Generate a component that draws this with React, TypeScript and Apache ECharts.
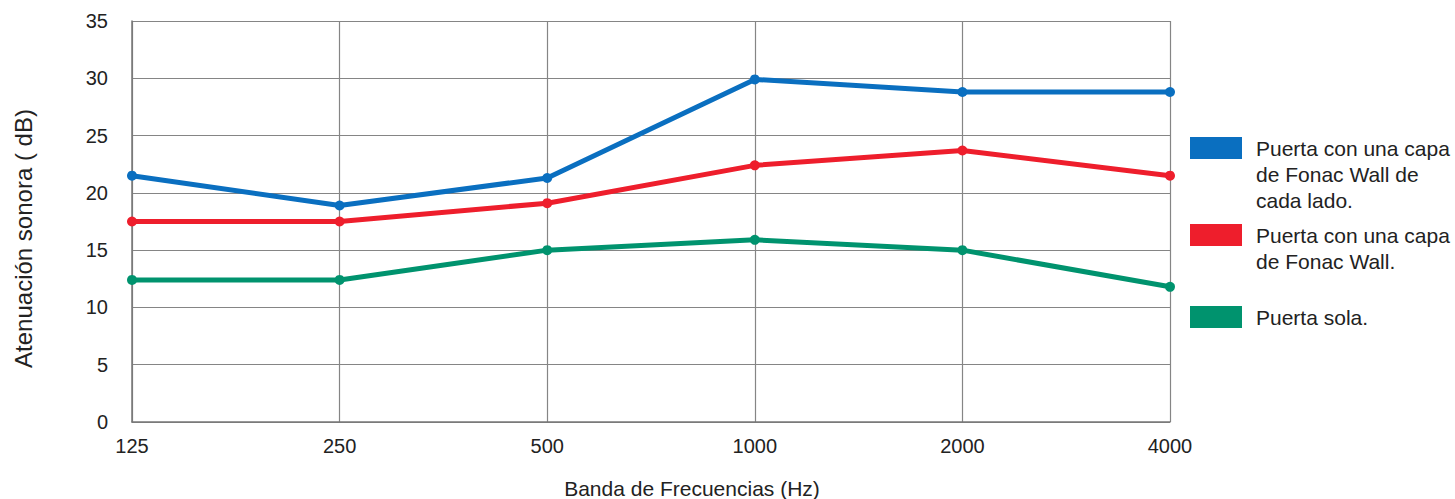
import React, { useEffect, useRef } from "react";
import * as echarts from "echarts";

const categories = ["125", "250", "500", "1000", "2000", "4000"];
const seriesNames = [
  "Puerta con una capa\nde Fonac Wall de\ncada lado.",
  "Puerta con una capa\nde Fonac Wall.",
  "Puerta sola.",
];
const blueValues = [21.5, 18.9, 21.3, 29.9, 28.8, 28.8];
const redValues = [17.5, 17.5, 19.1, 22.4, 23.7, 21.5];
const greenValues = [12.4, 12.4, 15.0, 15.9, 15.0, 11.8];
const colors = ["#0A6FC0", "#EE1E2C", "#00936E"];
const yTicks = [0, 5, 10, 15, 20, 25, 30, 35];

const FONT = "'Liberation Sans', Arial, Helvetica, sans-serif";

export default function App() {
  const ref = useRef<HTMLDivElement>(null);
  useEffect(() => {
    document.body.style.margin = "0";
    if (!ref.current) return;
    const chart = echarts.init(ref.current, undefined, { renderer: "svg" });
    const values = [blueValues, redValues, greenValues];
    const legendTops = [137, 224, 306];
    const graphic: any[] = [];
    seriesNames.forEach((n, i) => {
      graphic.push({
        type: "rect",
        shape: { x: 1190, y: legendTops[i], width: 52, height: 22 },
        style: { fill: colors[i] },
      });
      graphic.push({
        type: "text",
        x: 1256,
        y: legendTops[i] - 2,
        style: {
          text: n,
          font: `21px ${FONT}`,
          fill: "#222",
          verticalAlign: "top",
          lineHeight: 26,
        },
      });
    });
    chart.setOption({
      animation: false,
      textStyle: { fontFamily: FONT },
      grid: {
        left: 132,
        right: 285,
        top: 21,
        bottom: 77,
        containLabel: false,
        outerBoundsMode: "none",
      },
      xAxis: {
        type: "category",
        data: categories,
        boundaryGap: false,
        name: "Banda de Frecuencias (Hz)",
        nameLocation: "middle",
        nameGap: 56,
        nameTextStyle: { fontSize: 21, color: "#222", fontFamily: FONT, padding: [0, 0, 0, 82] },
        axisLine: { lineStyle: { color: "#777", width: 1.5 } },
        axisTick: { show: false },
        axisLabel: { fontSize: 20, color: "#222", margin: 14, fontFamily: FONT },
        splitLine: { show: true, lineStyle: { color: "#858585", width: 1.2 } },
      },
      yAxis: {
        type: "value",
        min: yTicks[0],
        max: yTicks[yTicks.length - 1],
        interval: 5,
        name: "Atenuación sonora ( dB)",
        nameLocation: "middle",
        nameGap: 97,
        nameTextStyle: { fontSize: 24, color: "#222", fontFamily: FONT, padding: [0, 34, 0, 0] },
        axisLine: { show: true, lineStyle: { color: "#777", width: 1.5 } },
        axisTick: { show: false },
        axisLabel: { fontSize: 20, color: "#222", margin: 24, fontFamily: FONT },
        splitLine: { show: true, lineStyle: { color: "#858585", width: 1.2 } },
      },
      graphic,
      series: values.map((v, i) => ({
        type: "line",
        name: seriesNames[i],
        data: v,
        symbol: "circle",
        symbolSize: 10,
        lineStyle: { color: colors[i], width: 5 },
        itemStyle: { color: colors[i] },
      })),
    });
    return () => chart.dispose();
  }, []);
  return <div ref={ref} style={{ width: 1455, height: 499 }} />;
}
